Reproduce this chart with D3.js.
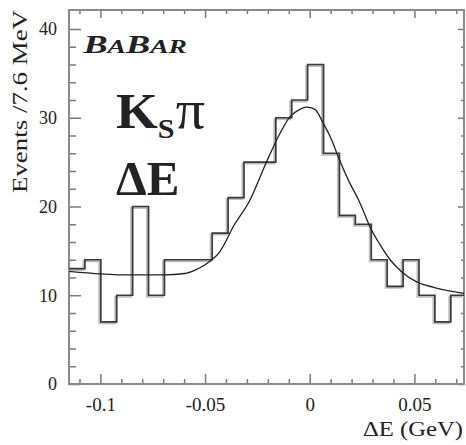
<!DOCTYPE html>
<html>
<head>
<meta charset="utf-8">
<script src="https://cdn.jsdelivr.net/npm/d3@7"></script>
<style>
  body { margin: 0; background: #fff; }
  svg { display: block; }
  text { font-family: "Times New Roman", "Liberation Serif", Times, serif; fill: #222; }
</style>
</head>
<body>
<div id="chart"></div>
<script>
// histogram: 25 bins of 7.6 MeV starting at -0.115 GeV
const binStart = -0.115;
const binWidth = 0.0076;
const counts = [13, 14, 7, 10, 20, 10, 14, 14, 14, 17, 21, 25, 25,
                30, 32, 36, 26, 19, 18, 14, 11, 14, 10, 7, 10];

// fitted curve
const fitX = [-0.1155, -0.0996, -0.0899, -0.0698, -0.0597, -0.055, -0.0502, -0.0468,
              -0.043, -0.0398, -0.0374, -0.0286, -0.0206, -0.0143, -0.0095, -0.0047,
              -0.0015, 0.0025, 0.0064, 0.0105, 0.0136, 0.0184, 0.024, 0.0288, 0.0336,
              0.0384, 0.0439, 0.0511, 0.0591, 0.0686, 0.0738];
const fitY = [12.7, 12.4, 12.3, 12.3, 12.45, 12.8, 13.4, 14.0,
              14.9, 16.2, 17.35, 20.7, 25.05, 28.2, 30.1, 30.95,
              31.2, 30.95, 29.4, 27.5, 25.6, 23.0, 20.4, 17.7, 15.7,
              14.0, 12.65, 11.5, 10.9, 10.4, 10.2];

const xMajor = [-0.1, -0.05, 0, 0.05];
const xMajorLabels = ["-0.1", "-0.05", "0", "0.05"];
const xMinor = [-0.11, -0.09, -0.08, -0.07, -0.06, -0.04, -0.03, -0.02, -0.01,
                0.01, 0.02, 0.03, 0.04, 0.06, 0.07];
const yMajor = [0, 10, 20, 30, 40];
const yMinor = [2, 4, 6, 8, 12, 14, 16, 18, 22, 24, 26, 28, 32, 34, 36, 38];

const serif = "'Times New Roman', 'Liberation Serif', Times, serif";

let dimensions = {
  width: 466,
  height: 445,
  margin: { top: 10, right: 2, bottom: 61, left: 69 },
};
dimensions.boundedWidth = dimensions.width - dimensions.margin.left - dimensions.margin.right;
dimensions.boundedHeight = dimensions.height - dimensions.margin.top - dimensions.margin.bottom;

const svg = d3.select("#chart")
  .append("svg")
  .attr("width", dimensions.width)
  .attr("height", dimensions.height)
  .attr("font-family", serif);

const bounds = svg.append("g")
  .attr("transform", `translate(${dimensions.margin.left},${dimensions.margin.top})`);

const x = d3.scaleLinear().domain([-0.115, 0.0737]).range([0, dimensions.boundedWidth]);
const y = d3.scaleLinear().domain([0, 42.14]).range([dimensions.boundedHeight, 0]);

bounds.append("clipPath").attr("id", "frameClip")
  .append("rect")
  .attr("width", dimensions.boundedWidth)
  .attr("height", dimensions.boundedHeight);

// axes, ticks point inward on all sides
const tickColor = "#7a7a7a";
function styleAxis(g) {
  g.attr("font-family", serif);
  g.select(".domain").remove();
  g.selectAll(".tick line").attr("stroke", tickColor).attr("stroke-width", 1.5);
  g.selectAll(".tick text").attr("fill", "#333");
}

bounds.append("g")
  .attr("transform", `translate(0,${dimensions.boundedHeight})`)
  .call(d3.axisBottom(x).tickValues(xMajor).tickSize(-10).tickPadding(14)
    .tickFormat((d, i) => xMajorLabels[i]))
  .call(styleAxis)
  .call(g => g.selectAll(".tick text").attr("font-size", 19));
bounds.append("g")
  .attr("transform", `translate(0,${dimensions.boundedHeight})`)
  .call(d3.axisBottom(x).tickValues(xMinor).tickSize(-5).tickFormat(""))
  .call(styleAxis);

bounds.append("g")
  .call(d3.axisTop(x).tickValues(xMajor).tickSize(-8).tickFormat(""))
  .call(styleAxis);
bounds.append("g")
  .call(d3.axisTop(x).tickValues(xMinor).tickSize(-4).tickFormat(""))
  .call(styleAxis);

bounds.append("g")
  .call(d3.axisLeft(y).tickValues(yMajor).tickSize(-12).tickPadding(12))
  .call(styleAxis)
  .call(g => g.selectAll(".tick text").attr("font-size", 18));
bounds.append("g")
  .call(d3.axisLeft(y).tickValues(yMinor).tickSize(-7).tickFormat(""))
  .call(styleAxis);

bounds.append("g")
  .attr("transform", `translate(${dimensions.boundedWidth},0)`)
  .call(d3.axisRight(y).tickValues(yMajor).tickSize(-6).tickFormat(""))
  .call(styleAxis);
bounds.append("g")
  .attr("transform", `translate(${dimensions.boundedWidth},0)`)
  .call(d3.axisRight(y).tickValues(yMinor).tickSize(-3).tickFormat(""))
  .call(styleAxis);

// frame
bounds.append("rect")
  .attr("width", dimensions.boundedWidth)
  .attr("height", dimensions.boundedHeight)
  .attr("fill", "none")
  .attr("stroke", "#8a8a8a")
  .attr("stroke-width", 2);

// histogram as a step outline
const steps = counts.map((c, i) => [binStart + i * binWidth, c]);
steps.push([binStart + counts.length * binWidth, counts[counts.length - 1]]);
const stepLine = d3.line()
  .x(d => x(d[0]))
  .y(d => y(d[1]))
  .curve(d3.curveStepAfter);

const plot = bounds.append("g").attr("clip-path", "url(#frameClip)");

// light scan shadow under the histogram
plot.append("path")
  .attr("d", stepLine(steps))
  .attr("fill", "none")
  .attr("stroke", "#bdbdbd")
  .attr("stroke-width", 2)
  .attr("transform", "translate(-1.5,1.5)");

plot.append("path")
  .attr("d", stepLine(steps))
  .attr("fill", "none")
  .attr("stroke", "#3a3a3a")
  .attr("stroke-width", 1.7);

// fit curve
const fitLine = d3.line()
  .x((d, i) => x(fitX[i]))
  .y(d => y(d))
  .curve(d3.curveMonotoneX);
plot.append("path")
  .attr("d", fitLine(fitY))
  .attr("fill", "none")
  .attr("stroke", "#222")
  .attr("stroke-width", 1.3);

// stretch a text element horizontally so it covers the given width
function stretchTo(sel, x0, w) {
  const bb = sel.node().getBBox();
  const k = w / bb.width;
  sel.attr("transform", `translate(${x0},0) scale(${k},1) translate(${-bb.x},0)`);
}

// BABAR logo
const logo = svg.append("text")
  .attr("y", 53)
  .attr("font-style", "italic")
  .attr("font-weight", "bold");
logo.append("tspan").attr("font-size", 25).text("B");
logo.append("tspan").attr("font-size", 19).text("A");
logo.append("tspan").attr("font-size", 25).text("B");
logo.append("tspan").attr("font-size", 19).text("AR");
stretchTo(logo, 82, 105);

// K_S pi
const kspi = svg.append("text").attr("y", 128).attr("font-weight", "bold");
kspi.append("tspan").attr("font-size", 50).text("K");
kspi.append("tspan").attr("font-size", 28).attr("dy", 10).text("S");
kspi.append("tspan").attr("font-size", 54).attr("font-weight", "normal").attr("dy", -10).attr("dx", 1).text("π");
stretchTo(kspi, 116, 89);

svg.append("text")
  .attr("x", 116)
  .attr("y", 195)
  .attr("font-weight", "bold")
  .attr("font-size", 49)
  .text("ΔE");

// axis titles
svg.append("text")
  .attr("text-anchor", "middle")
  .attr("transform", "translate(27,101.5) rotate(-90)")
  .attr("font-size", 20)
  .attr("textLength", 183)
  .attr("lengthAdjust", "spacingAndGlyphs")
  .text("Events /7.6 MeV");

svg.append("text")
  .attr("text-anchor", "end")
  .attr("x", 463)
  .attr("y", 436)
  .attr("font-size", 20)
  .attr("textLength", 100)
  .attr("lengthAdjust", "spacingAndGlyphs")
  .text("ΔE (GeV)");
</script>
</body>
</html>
